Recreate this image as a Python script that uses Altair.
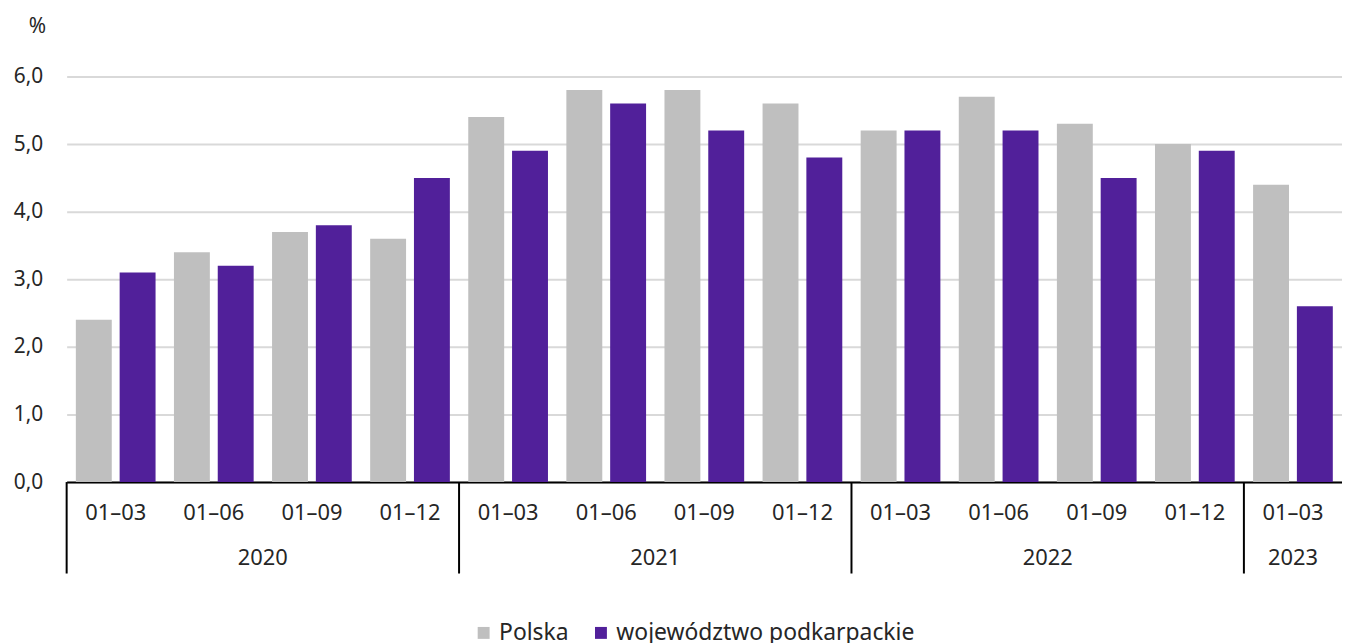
import altair as alt
import pandas as pd

years = ["2020", "2020", "2020", "2020", "2021", "2021", "2021", "2021",
         "2022", "2022", "2022", "2022", "2023"]
periods = ["01–03", "01–06", "01–09", "01–12", "01–03", "01–06", "01–09", "01–12",
           "01–03", "01–06", "01–09", "01–12", "01–03"]
polska = [2.4, 3.4, 3.7, 3.6, 5.4, 5.8, 5.8, 5.6, 5.2, 5.7, 5.3, 5.0, 4.4]
podkarpackie = [3.1, 3.2, 3.8, 4.5, 4.9, 5.6, 5.2, 4.8, 5.2, 5.2, 4.5, 4.9, 2.6]
series_names = ["Polska", "województwo podkarpackie"]
series_colors = ["#bfbfbf", "#51209a"]

keys = [f"{y}|{p}" for y, p in zip(years, periods)]
rows = []
for k, a, b in zip(keys, polska, podkarpackie):
    rows.append({"key": k, "series": series_names[0], "value": a})
    rows.append({"key": k, "series": series_names[1], "value": b})
df = pd.DataFrame(rows)

# year groups
year_labels, year_counts = [], []
for y in years:
    if year_labels and year_labels[-1] == y:
        year_counts[-1] += 1
    else:
        year_labels.append(y)
        year_counts.append(1)
starts, centers = [], []
acc = 0
for c in year_counts:
    starts.append(acc)
    centers.append(acc + c / 2)
    acc += c
ydf = pd.DataFrame({"year": year_labels, "center": centers, "start": starts})

W, H = 1283, 408
FONT = "Noto Sans"
TXT = "#262626"
FS = 22
LFS = 23

bars = alt.Chart(df).mark_bar().encode(
    x=alt.X("key:N", sort=keys,
            scale=alt.Scale(paddingInner=0, paddingOuter=0),
            axis=alt.Axis(title=None, labelExpr="substring(datum.value, 5)",
                          labelAngle=0, ticks=False, labelPadding=21,
                          labelFontSize=FS, labelColor=TXT, labelFont=FONT,
                          domainColor="#000000", domainWidth=2, grid=False)),
    xOffset=alt.XOffset("series:N", sort=series_names,
                        scale=alt.Scale(paddingInner=0.18, paddingOuter=0.21)),
    y=alt.Y("value:Q", scale=alt.Scale(domain=[0, 6], nice=False),
            axis=alt.Axis(title="%", values=[0, 1, 2, 3, 4, 5, 6],
                          labelExpr="replace(format(datum.value, '.1f'), '.', ',')",
                          ticks=False, domain=False, labelPadding=24,
                          labelFontSize=21, labelColor=TXT, labelFont=FONT,
                          gridColor="#d9d9d9", gridWidth=2,
                          titleAngle=0, titleX=-30, titleY=-50,
                          titleAlign="center", titleBaseline="middle",
                          titleFontSize=21, titleFontWeight="normal",
                          titleColor=TXT, titleFont=FONT)),
    color=alt.Color("series:N", sort=series_names,
                    scale=alt.Scale(domain=series_names, range=series_colors),
                    legend=alt.Legend(title=None, orient="none", direction="horizontal",
                                      legendX=408, legendY=548,
                                      symbolType="square", symbolSize=144,
                                      symbolStrokeWidth=0, labelLimit=0,
                                      labelFontSize=LFS, labelFont=FONT, labelColor=TXT,
                                      labelOffset=4, columnPadding=21)),
)

xq = alt.Scale(domain=[0, len(keys)], nice=False, zero=False)

seps = alt.Chart(ydf).mark_rule(color="#000000", strokeWidth=2).encode(
    x=alt.X("start:Q", scale=xq, axis=None),
    y=alt.value(H),
    y2=alt.value(H + 92),
)

year_text = alt.Chart(ydf).mark_text(fontSize=FS, font=FONT, color=TXT,
                                     baseline="middle").encode(
    x=alt.X("center:Q", scale=xq, axis=None),
    y=alt.value(H + 76),
    text="year:N",
)

chart = alt.layer(bars, seps, year_text).resolve_scale(x="independent").properties(
    width=W, height=H,
    autosize=alt.AutoSizeParams(type="none"),
    padding={"left": 59, "top": 67, "right": 0, "bottom": 160},
).configure_view(stroke=None)

chart.save("out.html", embed_options={"renderer": "svg", "actions": False})
